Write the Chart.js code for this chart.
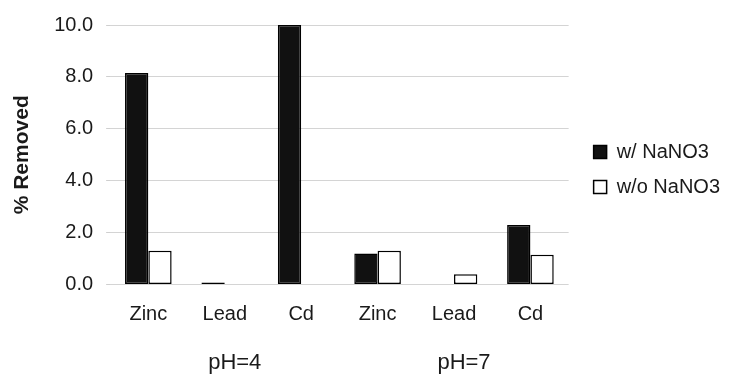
<!DOCTYPE html>
<html>
<head>
<meta charset="utf-8">
<script src="https://cdn.jsdelivr.net/npm/chart.js@4/dist/chart.umd.min.js"></script>
<style>
  html, body { margin: 0; padding: 0; background: #ffffff; }
  #wrap { position: relative; width: 730px; height: 377px; }
</style>
</head>
<body>
<div id="wrap"><canvas id="c"></canvas></div>
<script>
// ---- data ----
const categories   = ['Zinc', 'Lead', 'Cd', 'Zinc', 'Lead', 'Cd'];
const groups       = ['pH=4', 'pH=7'];
const groupIndex   = [1, 4];            // category under which each group label sits
const seriesNames  = ['w/ NaNO3', 'w/o NaNO3'];
const withNaNO3    = [8.15, 0.08, 10.0, 1.2, 0, 2.3];
const withoutNaNO3 = [1.3, 0, 0, 1.3, 0.4, 1.15];
const yTicks       = [0, 2, 4, 6, 8, 10];
const yTitle       = '% Removed';

const groupLabels = categories.map((c, i) => {
  const k = groupIndex.indexOf(i);
  return k >= 0 ? groups[k] : '';
});

const FONT = "'Liberation Sans', Arial, sans-serif";
const TEXT = '#1a1a1a';

new Chart(document.getElementById('c'), {
  type: 'bar',
  data: {
    labels: categories,
    datasets: [
      {
        label: seriesNames[0],
        data: withNaNO3,
        backgroundColor: '#111111',
        borderColor: '#000000',
        borderWidth: 1.5,
        borderSkipped: false,
        xAxisID: 'x', yAxisID: 'y'
      },
      {
        label: seriesNames[1],
        data: withoutNaNO3,
        backgroundColor: '#ffffff',
        borderColor: '#000000',
        borderWidth: 1.5,
        borderSkipped: false,
        xAxisID: 'x', yAxisID: 'y'
      }
    ]
  },
  options: {
    responsive: true,
    maintainAspectRatio: false,
    animation: false,
    datasets: { bar: { categoryPercentage: 0.61, barPercentage: 1.0 } },
    layout: { padding: { top: 24, left: 10, right: 0, bottom: 0 } },
    plugins: {
      tooltip: { enabled: false },
      legend: {
        position: 'right',
        align: 'start',
        maxWidth: 200,
        title: { display: true, text: '', font: { size: 10 }, padding: { top: 91, bottom: 0 } },
        labels: {
          boxWidth: 13,
          boxHeight: 13,
          padding: 15,
          color: TEXT,
          font: { family: FONT, size: 20 }
        }
      }
    },
    scales: {
      x: {
        type: 'category',
        position: 'bottom',
        grid: { display: false, drawTicks: true, tickLength: 16 },
        border: { display: false },
        ticks: { color: TEXT, padding: 2, font: { family: FONT, size: 20 }, maxRotation: 0, autoSkip: false }
      },
      x2: {
        type: 'category',
        position: 'bottom',
        labels: groupLabels,
        grid: { display: false, drawTicks: true, tickLength: 20 },
        border: { display: false },
        ticks: { color: TEXT, padding: 1, labelOffset: 10, font: { family: FONT, size: 22 }, maxRotation: 0, autoSkip: false }
      },
      y: {
        type: 'linear',
        position: 'left',
        min: 0,
        max: 10,
        afterBuildTicks: (scale) => { scale.ticks = yTicks.map(v => ({ value: v })); },
        grid: { color: '#d4d4d4', lineWidth: 1, drawTicks: true, tickLength: 4, tickColor: '#cfcfcf' },
        border: { display: false },
        ticks: {
          color: TEXT,
          padding: 13,
          font: { family: FONT, size: 20 },
          callback: (v) => Number(v).toFixed(1)
        },
        title: {
          display: true,
          text: yTitle,
          color: TEXT,
          font: { family: FONT, size: 21, weight: 'bold' },
          padding: { top: 0, bottom: 6 }
        }
      },
      yPad: {
        type: 'linear',
        position: 'right',
        display: true,
        grid: { display: false, drawTicks: false },
        border: { display: false },
        ticks: { display: false },
        afterFit: (scale) => { scale.width = 10; }
      }
    }
  }
});
</script>
</body>
</html>
